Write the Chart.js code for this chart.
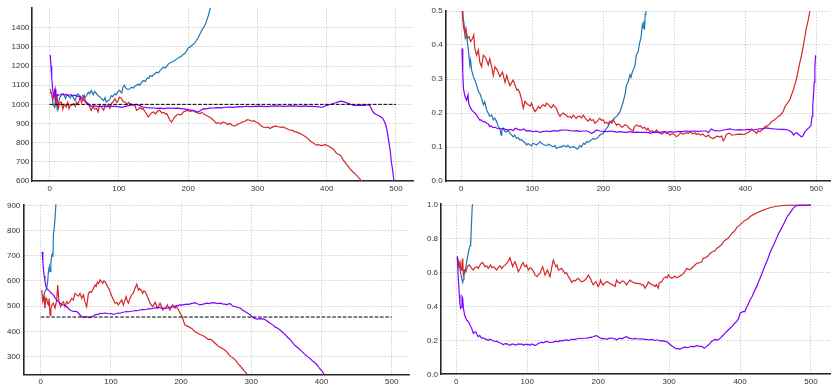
<!DOCTYPE html>
<html>
<head>
<meta charset="utf-8">
<script src="https://cdn.jsdelivr.net/npm/chart.js@4"></script>
<style>
  html, body { margin: 0; padding: 0; background: #fff; overflow: hidden; }
  #wrap { position: relative; width: 831px; height: 384px; }
  canvas { position: absolute; }
</style>
</head>
<body>
<div id="wrap">
  <canvas id="tl" width="415" height="193" style="left:0;top:0"></canvas>
  <canvas id="tr" width="416" height="193" style="left:415px;top:0"></canvas>
  <canvas id="bl" width="415" height="191" style="left:0;top:193px"></canvas>
  <canvas id="br" width="416" height="191" style="left:415px;top:193px"></canvas>
</div>
<script>
// tick labels
const xTicks = [0, 100, 200, 300, 400, 500];
const tlYTicks = [600, 700, 800, 900, 1000, 1100, 1200, 1300, 1400];
const trYTicks = [0, 0.1, 0.2, 0.3, 0.4, 0.5];
const blYTicks = [300, 400, 500, 600, 700, 800, 900];
const brYTicks = [0, 0.2, 0.4, 0.6, 0.8, 1.0];

// top left panel, [x, y]
const tlBlue = [[1,1066],[3,1050],[5,1000],[7,985],[9,1040],[11,975],[13,1010],[15,1038],[18,1050],[20,1055],[23,1030],[25,1050],[27,1045],[30,1035],[32,1050],[34,1038],[37,1020],[39,1045],[41,1055],[44,1040],[46,1030],[48,1047],[51,1035],[53,1045],[56,1064],[58,1055],[60,1073],[63,1050],[65,1068],[68,1055],[70,1045],[72,1040],[75,1029],[78,1020],[80,1035],[82,1012],[85,1020],[87,1029],[89,1045],[91,1040],[94,1055],[96,1050],[98,1065],[101,1073],[104,1060],[106,1090],[108,1099],[110,1085],[113,1078],[116,1081],[118,1090],[121,1085],[123,1095],[125,1099],[128,1105],[130,1100],[133,1115],[135,1125],[138,1120],[141,1138],[143,1135],[145,1150],[148,1145],[150,1155],[152,1160],[154,1168],[157,1165],[160,1180],[162,1185],[164,1194],[167,1190],[170,1205],[173,1215],[176,1220],[180,1228],[183,1235],[186,1245],[189,1248],[192,1258],[195,1265],[198,1280],[200,1295],[203,1300],[206,1310],[209,1318],[211,1328],[214,1345],[216,1360],[218,1375],[221,1395],[223,1405],[225,1420],[227,1440],[229,1462],[231,1490],[233,1515]];
const tlRed = [[1,1081],[3,1050],[5,1029],[7,1064],[9,1000],[11,1040],[12.5,978],[15,1010],[17,1012],[19,975],[21,1000],[24,986],[26,1010],[28,978],[30,998],[32,995],[35,1005],[37,990],[39,1012],[41,1000],[44,1038],[46,1010],[48,1021],[50,1045],[52,1010],[54,1000],[56,1003],[58,985],[60,969],[63,990],[65,975],[68,978],[70,960],[72,995],[75,986],[78,970],[80,990],[82,986],[85,1000],[87,980],[89,1003],[92,1015],[94,1029],[97,1010],[99,1020],[101,1038],[104,1030],[106,1015],[109,1012],[112,1000],[114,1010],[116,1003],[119,1000],[121,995],[123,995],[125.5,969],[128,975],[131,985],[133,975],[135,978],[138,960],[140,950],[142,934],[145,945],[147,955],[150,960],[153,950],[156,965],[159,969],[162,955],[165,958],[167,950],[169,952],[172,930],[174,915],[176,908],[179,925],[181,935],[183,943],[186,948],[190,945],[193,960],[196,965],[200,969],[203,962],[207,969],[210,960],[214,955],[217,952],[220,958],[223,948],[226,943],[230,935],[234,926],[237,915],[241,900],[244,905],[247,898],[250,908],[254,903],[257,895],[260,900],[264,890],[267,886],[270,893],[274,900],[277,905],[279,908],[282,912],[285,920],[289,917],[292,912],[295,915],[298,908],[302,900],[305,890],[308,882],[312,878],[315,882],[318,874],[321,880],[324,885],[327,886],[330,883],[334,880],[337,882],[341,875],[344,870],[347,865],[350,866],[353,858],[356,856],[360,850],[363,845],[366,839],[369,832],[372,825],[375,813],[378,805],[382,795],[385,787],[388,790],[392,785],[395,787],[398,790],[401,785],[404,779],[407,772],[410,765],[414,745],[417,740],[420,733],[424,709],[427,695],[430,680],[433,666],[436,655],[440,640],[443,631],[446,618],[450,602],[452,590]];
const tlPurple = [[1,1258],[2,1200],[3,1140],[4,1100],[5,1060],[6,1045],[7,1064],[8,1080],[9,1035],[10,1050],[12,1047],[15,1050],[18,1055],[21,1048],[24,1052],[27,1046],[30,1050],[33,1045],[36,1048],[39,1044],[42,1040],[44,1041],[47,1030],[50,1020],[53,1012],[56,1000],[58,995],[60,990],[65,992],[70,988],[75,990],[80,992],[85,988],[90,990],[95,989],[100,987],[104,984],[108,988],[112,992],[116,995],[120,998],[125,1000],[130,995],[135,986],[140,983],[145,982],[150,981],[155,979],[160,980],[165,978],[170,980],[175,981],[180,979],[185,980],[190,978],[195,976],[200,973],[205,969],[210,965],[214,960],[218,968],[222,978],[226,976],[230,980],[236,981],[242,983],[248,982],[254,985],[260,986],[266,984],[272,988],[278,987],[284,990],[290,988],[296,990],[302,991],[308,990],[314,988],[320,991],[326,992],[332,991],[338,990],[344,991],[350,992],[356,991],[362,990],[368,992],[374,990],[380,990],[386,988],[391,986],[395,987],[400,995],[404,998],[408,1003],[412,1007],[416,1012],[419,1016],[421,1017],[424,1014],[428,1009],[432,1004],[436,998],[440,995],[445,995],[450,996],[455,995],[459,998],[462,995],[465,975],[467,960],[470,950],[474,943],[478,935],[481,926],[484,905],[486,882],[488,845],[490,796],[492,750],[493,709],[495,660],[497,602],[498,580]];
const tlRef = [[0,1000],[500,1000]];

// top right panel
const trBlue = [[1,0.52],[2,0.49],[4,0.459],[5.6,0.42],[7.5,0.43],[9,0.40],[10,0.385],[12,0.34],[13,0.355],[14.5,0.326],[17,0.307],[19,0.297],[21.6,0.282],[24,0.263],[26,0.258],[28.6,0.243],[31,0.224],[33,0.233],[35.7,0.209],[38,0.199],[40,0.19],[42.7,0.194],[45,0.18],[47,0.185],[50,0.174],[52,0.16],[54.5,0.153],[56,0.135],[57,0.147],[59,0.155],[61.5,0.145],[64,0.145],[66,0.15],[68.5,0.14],[71,0.135],[73,0.13],[75,0.135],[78,0.125],[80,0.128],[82.6,0.12],[85,0.122],[87.3,0.116],[90,0.112],[92,0.106],[94,0.11],[96.7,0.106],[99,0.104],[101,0.111],[104,0.108],[106,0.106],[109,0.112],[111,0.116],[113,0.11],[115.5,0.108],[118,0.105],[120,0.104],[123,0.108],[125,0.106],[127,0.103],[129.6,0.101],[132,0.104],[134,0.096],[136,0.098],[139,0.101],[141,0.1],[143.7,0.104],[146,0.103],[148,0.101],[150,0.105],[153,0.098],[155,0.1],[157.7,0.101],[160,0.099],[162,0.096],[164,0.094],[167,0.104],[169,0.1],[172,0.111],[174,0.108],[176.5,0.116],[179,0.114],[181,0.118],[184,0.122],[186,0.125],[188,0.123],[190.6,0.125],[193,0.13],[195,0.135],[198,0.138],[200,0.14],[202,0.148],[204.7,0.155],[207,0.162],[209,0.17],[211,0.175],[214,0.18],[216,0.186],[219,0.19],[221,0.196],[223.5,0.204],[226,0.22],[228,0.233],[230.5,0.253],[232.4,0.28],[235,0.292],[237.6,0.312],[239,0.305],[241,0.322],[243,0.33],[244.6,0.341],[246.5,0.37],[249,0.38],[251,0.405],[253,0.42],[255,0.459],[256,0.45],[257,0.469],[258,0.445],[259,0.49],[260,0.53]];
const trRed = [[1,0.51],[2,0.48],[3,0.454],[5,0.434],[6.5,0.449],[8.5,0.42],[11,0.424],[13,0.41],[16,0.42],[17.5,0.43],[19,0.39],[21.6,0.37],[24,0.385],[26,0.35],[28.6,0.336],[31,0.37],[33,0.366],[35.7,0.356],[38,0.341],[40,0.36],[42.7,0.336],[45,0.31],[47.4,0.336],[50.7,0.326],[54.5,0.307],[58,0.32],[61.5,0.29],[64,0.31],[66,0.295],[68.5,0.28],[71,0.29],[73,0.297],[76,0.28],[78,0.268],[80,0.27],[82.6,0.258],[85,0.238],[87.3,0.214],[89.7,0.234],[92,0.228],[94.4,0.224],[97,0.22],[99,0.229],[101,0.215],[103.8,0.204],[106,0.21],[108.5,0.219],[111,0.214],[113,0.22],[115.5,0.224],[118,0.22],[120,0.229],[122,0.226],[125,0.219],[127,0.215],[129.6,0.224],[132,0.218],[134,0.214],[136,0.2],[139,0.19],[141,0.196],[143.7,0.2],[146,0.195],[148,0.194],[150,0.188],[153,0.19],[155,0.185],[157.7,0.194],[160,0.188],[162,0.184],[164,0.19],[167,0.19],[169,0.185],[172,0.194],[174,0.186],[176.5,0.18],[179,0.176],[181,0.184],[183,0.178],[186,0.18],[188,0.17],[190.6,0.174],[193,0.18],[195,0.184],[198,0.178],[200,0.18],[202,0.17],[204.7,0.173],[207,0.168],[209,0.176],[212,0.17],[214,0.18],[216,0.172],[219,0.164],[221,0.168],[223.5,0.165],[226,0.158],[228,0.16],[230,0.165],[233,0.164],[235,0.158],[237.6,0.153],[240,0.15],[242,0.147],[244,0.16],[247,0.165],[250,0.16],[252,0.163],[255,0.155],[258,0.158],[261,0.15],[263,0.155],[266,0.145],[269,0.148],[272,0.142],[275,0.15],[277,0.145],[280,0.14],[283,0.138],[286,0.145],[289,0.14],[291.5,0.14],[294,0.135],[297,0.14],[300,0.137],[303,0.13],[306,0.135],[309,0.142],[312,0.138],[315,0.14],[317,0.142],[320,0.14],[323,0.145],[326,0.138],[329,0.142],[331,0.137],[334,0.14],[337,0.135],[340,0.138],[343,0.132],[345,0.13],[348,0.135],[351,0.128],[355,0.125],[357,0.128],[360,0.132],[364,0.13],[366.7,0.132],[369,0.118],[371,0.125],[373,0.135],[376,0.14],[378,0.14],[381,0.135],[385,0.136],[388,0.137],[392,0.138],[396,0.137],[399.5,0.138],[403,0.142],[406,0.145],[409,0.153],[411,0.148],[413.6,0.145],[416,0.14],[418,0.148],[420.7,0.145],[423,0.15],[425,0.152],[428,0.16],[431,0.162],[434.7,0.168],[437,0.175],[440,0.178],[444,0.185],[446.5,0.19],[450,0.195],[453.5,0.205],[456,0.219],[459,0.228],[463,0.24],[465,0.253],[468,0.27],[470,0.285],[472,0.3],[475,0.33],[477,0.35],[479,0.368],[481,0.39],[484,0.425],[486,0.45],[488.7,0.474],[490.5,0.495],[492,0.515]];
const trPurple = [[1,0.39],[2,0.32],[3,0.272],[4.7,0.253],[6,0.245],[7.5,0.238],[9.4,0.253],[10,0.235],[11,0.224],[13,0.215],[14.5,0.209],[17,0.204],[19,0.2],[21.6,0.194],[24,0.185],[26,0.179],[28,0.18],[31,0.174],[33,0.175],[35.7,0.17],[38,0.168],[40,0.16],[42,0.162],[45,0.157],[48,0.158],[50,0.155],[54.5,0.153],[58,0.155],[62,0.152],[66,0.15],[70,0.152],[73,0.148],[76,0.155],[80,0.152],[84,0.15],[88,0.153],[92,0.147],[96,0.148],[101,0.145],[106,0.147],[111,0.143],[116,0.146],[120,0.147],[125,0.145],[130,0.148],[135,0.147],[139,0.149],[144,0.15],[148,0.15],[153,0.148],[158,0.147],[163,0.148],[167,0.146],[172,0.147],[176.5,0.147],[180,0.145],[183.5,0.14],[186,0.143],[190.6,0.15],[195,0.147],[200,0.146],[205,0.145],[210,0.147],[214,0.146],[219,0.144],[223.5,0.145],[228,0.144],[233,0.143],[238,0.145],[242,0.143],[247,0.144],[252,0.143],[257,0.143],[263,0.143],[266,0.14],[270,0.143],[275,0.144],[280,0.143],[285,0.145],[290,0.144],[295,0.145],[300,0.144],[305,0.145],[310,0.145],[317,0.147],[322,0.146],[327,0.147],[333,0.146],[340,0.147],[345,0.147],[348,0.142],[352,0.153],[357,0.148],[364,0.147],[370,0.15],[378,0.153],[385,0.15],[392,0.151],[398,0.15],[404,0.152],[411,0.15],[418,0.153],[424,0.154],[430,0.156],[436,0.154],[442,0.153],[449,0.152],[455,0.152],[460,0.15],[463,0.147],[466,0.142],[468,0.135],[470,0.14],[472,0.142],[475,0.137],[479,0.13],[481,0.132],[484,0.145],[488.7,0.155],[491,0.16],[492.5,0.163],[494,0.19],[495,0.219],[496,0.25],[497,0.29],[498,0.33],[499,0.37]];

// bottom left panel
const blBlue = [[2,530],[3.8,538],[6,558],[8.5,571],[10,600],[11,637],[12.3,657],[13.3,637],[14.5,670],[15.7,703],[17,710],[17.5,695],[18,782],[19.5,815],[21,875],[22,921]];
const blRed = [[1.4,564],[3,518],[4.7,538],[6,492],[7,525],[8.5,531],[10,510],[11,505],[12,530],[13.3,465],[14.5,490],[15.7,505],[18,512],[20.4,492],[22.8,525],[24.2,584],[26,518],[28.5,498],[30,510],[32.3,518],[34.7,498],[37,518],[39,510],[41.8,518],[44,531],[46.5,525],[49,551],[51.3,545],[53.5,540],[56,551],[58.4,531],[60.8,545],[63,518],[65.5,498],[68,551],[70.3,558],[72,555],[74,564],[77.4,584],[79,578],[80.7,595],[82.5,590],[84.5,604],[86.5,598],[88.3,591],[90,600],[91.6,597],[93.5,588],[95,578],[97,570],[98.8,558],[100.5,545],[102.6,531],[104.5,520],[106,512],[108.5,515],[110.6,505],[113,515],[115.4,525],[117.8,505],[119.5,520],[121.6,538],[123.5,520],[125,512],[127,530],[129.6,545],[131.5,550],[133.4,564],[135,575],[136.8,587],[138,575],[139.3,564],[141,570],[142.5,564],[144,560],[145.3,551],[147,560],[148.6,558],[150.5,548],[152,538],[154,525],[155.7,512],[157.5,505],[159.5,498],[161,505],[163,516],[164.5,505],[166,492],[168,500],[170,512],[172,500],[173.8,485],[175.5,490],[177,492],[179,498],[180.4,505],[182,495],[184,485],[186,495],[188,505],[189.5,498],[191.4,492],[193,500],[194.7,492],[196.5,485],[198.5,472],[201.8,459],[203.5,440],[205.6,425],[208,422],[210.4,419],[213,415],[215,412],[217.5,405],[219.8,399],[222,396],[224.6,392],[227,388],[229.3,386],[232,382],[234,379],[236.5,373],[238.8,368],[241,369],[243.6,366],[246,360],[248.3,353],[251,347],[253,340],[256,338],[259,332],[262,326],[265.5,318],[268,308],[271,300],[275,293],[278,284],[281,272],[284.5,262],[287,254],[290,244],[293,234],[295,224]];
const blPurple = [[2,716],[3,680],[3.8,650],[5,620],[6,604],[7,585],[8.5,571],[10,565],[11,564],[13.3,558],[15,552],[18,545],[20,535],[22.8,525],[25,518],[27.5,512],[30,508],[32.3,505],[35,502],[37,498],[40,490],[41.8,485],[44,482],[46.5,479],[49,480],[51.3,479],[54,472],[56,465],[58,460],[60.8,455],[63,457],[65.5,459],[68,456],[70.3,455],[73,458],[75,461],[77,465],[79.8,468],[82,467],[84.5,472],[88,471],[91,473],[94,472],[97,470],[100,471],[103.5,468],[107,470],[110,473],[113,472],[116,475],[119,477],[122.5,479],[126,478],[129,480],[132,481],[135,483],[138,482],[141.5,485],[145,487],[148,486],[151,488],[154,490],[157,489],[160.5,492],[164,493],[167,494],[170,494],[173,492],[176,491],[179.5,492],[183,495],[186,497],[189,498],[192,500],[195,502],[198.5,505],[201,504],[204,506],[208,508],[211,507],[214,510],[217.5,512],[220,514],[223,510],[227,505],[230,507],[233,509],[236.5,512],[240,510],[243,513],[246,514],[249,512],[252,510],[255.5,512],[259,509],[262,508],[265,506],[268,509],[270,510],[273,502],[276,499],[280,496],[284.5,492],[288,484],[291,479],[295,472],[298.7,466],[301,458],[304,452],[308,449],[311,450],[314,451],[318,449],[321,444],[324,438],[327,432],[331,425],[334,418],[338,412],[341,406],[345,396],[349,385],[352,376],[356,366],[360,352],[363,342],[367,334],[370,326],[373,318],[376,310],[380,300],[384,292],[387,284],[389,280],[392,272],[395,262],[397,254],[399,248],[401,243],[404,228],[406,220]];
const blRef = [[0,457],[500,457]];

// bottom right panel
const brBlue = [[1.4,0.695],[3,0.66],[4.2,0.646],[6,0.6],[7.5,0.567],[9,0.543],[10,0.56],[10.8,0.587],[12,0.6],[13.6,0.636],[15.5,0.685],[17,0.72],[18.3,0.744],[19.5,0.76],[20,0.80],[20.5,0.77],[21.2,0.87],[22.5,1.0],[23,1.03]];
const brRed = [[1.4,0.695],[3.3,0.636],[5.2,0.665],[6.6,0.616],[8,0.655],[9,0.685],[9.9,0.587],[11.7,0.616],[13.6,0.606],[15.5,0.636],[18.3,0.646],[21.6,0.626],[24,0.616],[26,0.63],[28.7,0.636],[31,0.625],[33.4,0.646],[35,0.655],[37,0.661],[38.5,0.65],[40.4,0.636],[43,0.64],[45,0.626],[48.4,0.646],[50,0.63],[52,0.636],[55,0.625],[57,0.616],[59,0.63],[61.5,0.642],[64,0.625],[66,0.636],[68.5,0.645],[71,0.655],[73,0.665],[75.6,0.689],[77,0.67],[79.4,0.636],[81,0.655],[82.7,0.665],[85,0.64],[87.4,0.606],[90,0.625],[92,0.646],[94,0.66],[96.8,0.636],[99,0.645],[101.5,0.616],[104,0.63],[106,0.626],[108.5,0.61],[111,0.587],[114,0.577],[116,0.59],[118,0.596],[120,0.62],[121.7,0.636],[123.5,0.61],[125,0.587],[128.3,0.616],[130,0.6],[132,0.577],[134,0.62],[136.7,0.675],[138.5,0.655],[140.5,0.636],[142,0.645],[143.8,0.616],[146,0.62],[148.5,0.626],[151,0.61],[153,0.596],[155.5,0.6],[158,0.577],[160,0.565],[162.6,0.543],[165,0.555],[167.3,0.551],[169.5,0.56],[172,0.567],[174.5,0.555],[176.7,0.547],[179,0.55],[181.4,0.557],[184,0.57],[186,0.587],[189.4,0.563],[191,0.545],[193,0.528],[195,0.54],[197,0.547],[198.5,0.53],[200,0.518],[202,0.535],[203.4,0.557],[205,0.54],[207,0.528],[209.5,0.54],[212,0.547],[214,0.545],[216.6,0.537],[219,0.53],[221.3,0.528],[223.7,0.518],[226,0.557],[228,0.545],[230.7,0.537],[233,0.55],[235.4,0.551],[238,0.54],[240,0.528],[242.5,0.545],[244.8,0.557],[247,0.548],[249.5,0.543],[252,0.537],[254,0.54],[256.5,0.535],[259,0.537],[261,0.528],[264,0.528],[266,0.508],[268,0.52],[270.7,0.545],[273,0.537],[275.5,0.53],[278,0.528],[280,0.518],[282,0.53],[284.8,0.51],[286,0.54],[289.5,0.547],[292,0.567],[295,0.575],[297,0.57],[299,0.587],[301,0.575],[303.6,0.567],[306,0.572],[308,0.58],[310.6,0.57],[313,0.575],[315,0.58],[317.7,0.587],[320,0.595],[322,0.606],[324.8,0.626],[327,0.62],[329.4,0.618],[332,0.628],[334,0.635],[336.5,0.646],[339,0.656],[342,0.658],[345.9,0.665],[348,0.685],[352,0.69],[355,0.7],[357.6,0.714],[361,0.724],[364.7,0.73],[367,0.744],[371,0.755],[374,0.765],[376.4,0.783],[380,0.795],[383.5,0.805],[385.8,0.82],[389,0.835],[392.9,0.85],[395,0.865],[399,0.88],[402,0.892],[404.6,0.902],[408,0.912],[411.7,0.921],[414,0.931],[418,0.942],[423.4,0.953],[428,0.962],[432.8,0.97],[437,0.977],[442,0.984],[448,0.99],[456,0.996],[463,0.998],[470,1.0],[485,1.0],[500,1.0]];
const brPurple = [[1.4,0.695],[2.8,0.567],[4.2,0.468],[5,0.42],[6,0.39],[7,0.395],[8,0.459],[9,0.449],[10,0.39],[11.7,0.35],[13,0.335],[14.6,0.32],[16,0.315],[18.3,0.301],[20,0.285],[21.6,0.272],[24,0.242],[26,0.25],[27.7,0.248],[29,0.235],[31,0.222],[33,0.23],[35.7,0.213],[38,0.215],[40.4,0.209],[43,0.205],[45,0.2],[47,0.208],[49.8,0.203],[52,0.198],[54.5,0.194],[57,0.196],[59,0.19],[62,0.185],[64,0.182],[66,0.175],[68,0.18],[71,0.181],[73,0.176],[75.6,0.171],[78,0.178],[80.4,0.179],[83,0.173],[85,0.175],[88,0.18],[90,0.177],[92,0.179],[95,0.172],[97,0.178],[99,0.175],[102,0.177],[104,0.172],[106,0.179],[109,0.174],[111,0.17],[113,0.175],[116,0.183],[118,0.186],[120,0.19],[123,0.186],[125,0.192],[127,0.194],[130,0.19],[133,0.188],[136.7,0.19],[139,0.194],[142,0.195],[144,0.192],[146,0.2],[149,0.197],[152,0.2],[155.5,0.203],[158,0.199],[161,0.204],[163,0.207],[165,0.205],[168,0.208],[171,0.21],[174,0.213],[177,0.21],[180,0.213],[183.7,0.213],[186,0.215],[189,0.218],[191,0.22],[193,0.222],[195,0.226],[197.8,0.228],[200,0.222],[202.5,0.216],[205,0.21],[207,0.212],[210,0.21],[212,0.207],[215,0.212],[218,0.214],[221.3,0.213],[224,0.208],[226,0.203],[228,0.21],[230.7,0.213],[233,0.21],[236,0.215],[238,0.22],[240,0.222],[243,0.215],[245,0.212],[247,0.21],[249.5,0.209],[252,0.212],[255,0.21],[259,0.208],[262,0.21],[265,0.206],[268,0.207],[270,0.204],[273,0.203],[276,0.206],[280,0.2],[283,0.204],[287,0.197],[290,0.199],[293,0.196],[296.5,0.193],[299,0.185],[301,0.178],[303.6,0.169],[306,0.162],[308,0.155],[310.6,0.15],[313,0.152],[315,0.148],[317.7,0.154],[320,0.158],[323,0.16],[326,0.157],[329.5,0.163],[332,0.165],[335,0.162],[339,0.169],[342,0.166],[346,0.165],[349.3,0.154],[352,0.162],[355,0.172],[357.6,0.183],[360,0.195],[362,0.2],[364.7,0.207],[367,0.202],[369.4,0.205],[372,0.212],[374,0.222],[376.4,0.232],[379,0.245],[382,0.256],[385.8,0.272],[389,0.285],[392,0.3],[395,0.311],[398,0.33],[400,0.36],[402,0.366],[404,0.37],[406.7,0.37],[409,0.395],[411,0.41],[414,0.439],[417,0.46],[420,0.49],[423.4,0.518],[426,0.545],[429,0.575],[432.8,0.616],[436,0.65],[439,0.68],[442,0.715],[445,0.745],[448,0.77],[451.4,0.803],[454,0.83],[457,0.852],[460.8,0.882],[464,0.91],[467,0.935],[470,0.951],[473,0.97],[477,0.99],[480,0.997],[484,1.0],[500,1.0]];

const BLUE = '#1f77b4';
const RED = '#d62728';
const PURPLE = '#8000ff';

Chart.defaults.font.family = '"Liberation Sans", Arial, sans-serif';
Chart.defaults.font.size = 8;
Chart.defaults.color = '#333';

function line(pts, color, order, dash) {
    return {
        data: pts.map(p => ({ x: p[0], y: p[1] })),
        borderColor: color,
        borderWidth: dash ? 1 : 1.2,
        borderDash: dash || [],
        pointRadius: 0,
        tension: 0,
        order: order
    };
}

function axis(min, max, ticks, fmt, fit) {
    return {
        type: 'linear',
        min: min,
        max: max,
        afterBuildTicks: s => { s.ticks = ticks.map(v => ({ value: v })); },
        afterFit: fit,
        grid: { color: '#c4c4c4', lineWidth: 0.8, drawTicks: false },
        border: { display: true, color: '#262626', width: 1.6, dash: [1.5, 1.5] },
        ticks: { padding: 3, autoSkip: false, maxRotation: 0, callback: fmt }
    };
}

const intFmt = v => String(v);
const decFmt = v => v.toFixed(1);

// p = [padTop, padRight, yAxisWidth, xAxisHeight]
function panel(id, datasets, xr, yr, yTicks, yFmt, p) {
    new Chart(document.getElementById(id), {
        type: 'line',
        data: { datasets: datasets },
        options: {
            responsive: false,
            animation: false,
            layout: { padding: { top: p[0], right: p[1], left: 0, bottom: 0 } },
            plugins: { legend: { display: false }, tooltip: { enabled: false } },
            scales: {
                x: axis(xr[0], xr[1], xTicks, intFmt, s => { s.height = p[3]; }),
                y: axis(yr[0], yr[1], yTicks, yFmt, s => { s.width = p[2]; })
            }
        }
    });
}

panel('tl', [
    line(tlRef, '#000', 0, [3.7, 1.6]),
    line(tlPurple, PURPLE, 1),
    line(tlRed, RED, 2),
    line(tlBlue, BLUE, 3)
], [-25, 525], [600, 1504], tlYTicks, intFmt, [7.7, 1.7, 32.3, 12]);

panel('tr', [
    line(trPurple, PURPLE, 1),
    line(trRed, RED, 2),
    line(trBlue, BLUE, 3)
], [-22, 520.7], [0, 0.5], trYTicks, decFmt, [11, 0, 30.7, 12]);

panel('bl', [
    line(blRef, '#000', 0, [3.7, 1.6]),
    line(blPurple, PURPLE, 1),
    line(blRed, RED, 2),
    line(blBlue, BLUE, 3)
], [-24.8, 525.1], [230, 904], blYTicks, intFmt, [11.3, 5.7, 23.3, 9.7]);

panel('br', [
    line(brPurple, PURPLE, 1),
    line(brRed, RED, 2),
    line(brBlue, BLUE, 3)
], [-21.6, 528.2], [0, 1.005], brYTicks, decFmt, [11.2, 0, 26, 9.7]);
</script>
</body>
</html>
